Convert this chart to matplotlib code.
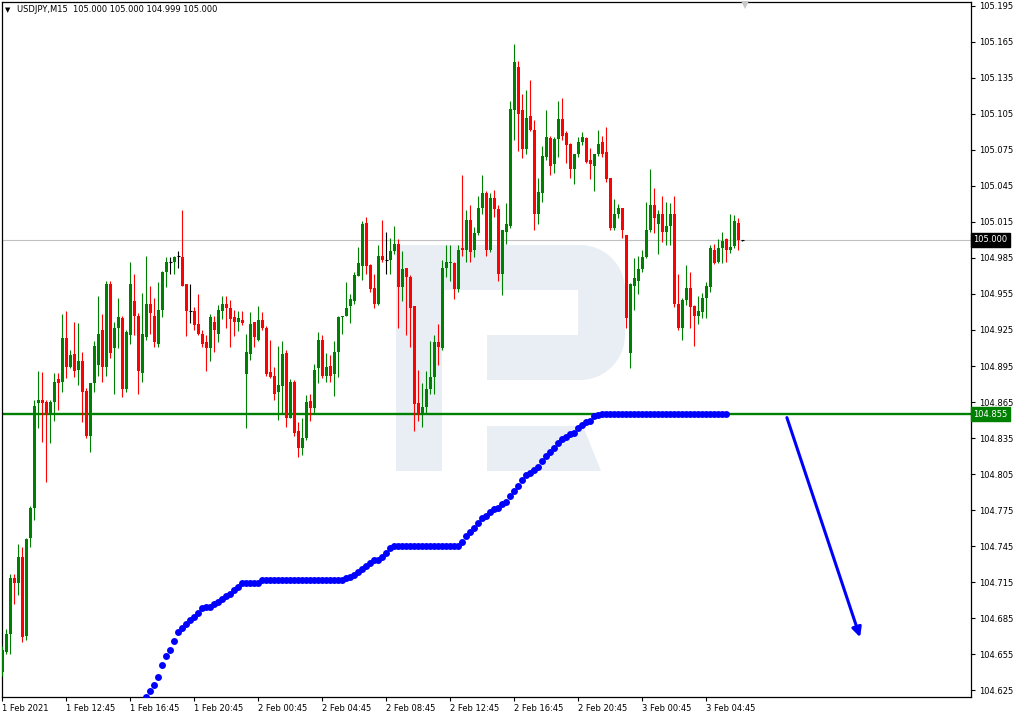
import numpy as np
import pandas as pd
import matplotlib
matplotlib.use('Agg')
import matplotlib.pyplot as plt
import matplotlib.transforms as mtransforms
from matplotlib.patches import Polygon

# ---------------- data: USDJPY M15, bars from 1 Feb 08:45 ----------------
opens = [
    104.640, 104.657, 104.672, 104.718, 104.714, 104.736, 104.670, 104.752, 104.777, 104.864,
    104.867, 104.865, 104.855, 104.865, 104.884, 104.882, 104.918, 104.894, 104.905, 104.892,
    104.899, 104.874, 104.837, 104.881, 104.896, 104.925, 104.894, 104.963, 104.910, 104.927,
    104.935, 104.876, 104.921, 104.949, 104.937, 104.889, 104.919, 104.947, 104.937, 104.913,
    104.942, 104.973, 104.982, 104.982, 104.987, 104.986, 104.963, 104.941, 104.941, 104.930,
    104.922, 104.915, 104.910, 104.932, 104.922, 104.941, 104.947, 104.943, 104.936, 104.932,
    104.933, 104.888, 104.905, 104.932, 104.917, 104.933, 104.927, 104.890, 104.887, 104.873,
    104.878, 104.906, 104.852, 104.882, 104.841, 104.827, 104.835, 104.866, 104.860, 104.893,
    104.917, 104.887, 104.895, 104.888, 104.907, 104.936, 104.937, 104.945, 104.949, 104.970,
    104.978, 105.014, 104.979, 104.960, 104.947, 104.987, 104.983, 104.983, 104.991, 104.997,
    104.961, 104.977, 104.969, 104.945, 104.864, 104.856, 104.861, 104.876, 104.886, 104.915,
    104.910, 104.977, 104.981, 104.981, 104.959, 104.993, 104.992, 105.017, 104.992, 105.006,
    105.027, 105.039, 104.992, 105.035, 105.026, 104.972, 105.007, 105.012, 105.108, 105.144,
    105.108, 105.076, 105.103, 105.092, 105.022, 105.039, 105.069, 105.085, 105.063, 105.084,
    105.101, 105.089, 105.080, 105.059, 105.072, 105.082, 105.085, 105.067, 105.062, 105.072,
    105.082, 105.073, 105.052, 105.010, 105.022, 105.027, 105.004, 104.906, 104.962, 104.966,
    104.976, 104.986, 105.008, 105.029, 105.013, 105.022, 105.007, 105.012, 105.022, 104.947,
    104.927, 104.950, 104.960, 104.945, 104.937, 104.940, 104.952, 104.961, 104.992, 104.982,
    104.993, 105.001, 104.992, 104.995, 105.014, 105.000,
]
closes = [
    104.658, 104.672, 104.718, 104.714, 104.736, 104.669, 104.751, 104.777, 104.862, 104.867,
    104.864, 104.855, 104.865, 104.882, 104.881, 104.918, 104.894, 104.904, 104.891, 104.899,
    104.873, 104.837, 104.881, 104.912, 104.922, 104.894, 104.963, 104.906, 104.927, 104.936,
    104.876, 104.923, 104.963, 104.937, 104.891, 104.922, 104.947, 104.939, 104.915, 104.942,
    104.973, 104.982, 104.982, 104.986, 104.987, 104.962, 104.941, 104.941, 104.929, 104.922,
    104.913, 104.910, 104.936, 104.925, 104.942, 104.947, 104.943, 104.934, 104.932, 104.935,
    104.931, 104.907, 104.930, 104.919, 104.933, 104.927, 104.888, 104.886, 104.872, 104.879,
    104.905, 104.852, 104.882, 104.839, 104.827, 104.835, 104.865, 104.860, 104.892, 104.917,
    104.887, 104.894, 104.887, 104.907, 104.936, 104.937, 104.943, 104.951, 104.971, 104.981,
    105.013, 104.978, 104.959, 104.947, 104.987, 104.983, 104.983, 104.991, 104.997, 104.961,
    104.976, 104.969, 104.943, 104.863, 104.856, 104.861, 104.876, 104.886, 104.915, 104.911,
    104.977, 104.982, 104.982, 104.959, 104.992, 104.992, 105.017, 104.990, 105.006, 105.027,
    105.039, 104.992, 105.035, 105.026, 104.972, 105.008, 105.013, 105.109, 105.148, 105.105,
    105.076, 105.102, 105.092, 105.022, 105.040, 105.070, 105.086, 105.062, 105.084, 105.101,
    105.087, 105.079, 105.059, 105.072, 105.082, 105.086, 105.065, 105.063, 105.072, 105.080,
    105.072, 105.051, 105.010, 105.022, 105.027, 105.008, 104.935, 104.963, 104.968, 104.976,
    104.986, 105.008, 105.029, 105.018, 105.022, 105.007, 105.012, 105.022, 104.947, 104.927,
    104.950, 104.960, 104.944, 104.937, 104.941, 104.952, 104.962, 104.993, 104.981, 104.993,
    104.999, 104.992, 104.994, 105.016, 105.000, 105.000,
]
highs = [
    104.662, 104.676, 104.722, 104.722, 104.747, 104.744, 104.752, 104.778, 104.867, 104.891,
    104.890, 104.867, 104.867, 104.889, 104.889, 104.938, 104.941, 104.908, 104.932, 104.931,
    104.907, 104.877, 104.881, 104.916, 104.953, 104.938, 104.966, 104.966, 104.932, 104.952,
    104.937, 104.925, 104.982, 104.972, 104.939, 104.956, 104.987, 104.962, 104.952, 104.965,
    104.974, 104.986, 104.986, 104.987, 104.991, 105.025, 104.963, 104.963, 104.944, 104.955,
    104.925, 104.921, 104.938, 104.937, 104.946, 104.953, 104.953, 104.950, 104.942, 104.941,
    104.941, 104.922, 104.940, 104.932, 104.945, 104.940, 104.928, 104.917, 104.894, 104.912,
    104.916, 104.908, 104.884, 104.883, 104.848, 104.852, 104.871, 104.872, 104.897, 104.923,
    104.921, 104.906, 104.904, 104.916, 104.937, 104.937, 104.965, 104.955, 104.973, 104.994,
    105.016, 105.019, 104.980, 104.972, 104.996, 105.017, 105.007, 105.002, 105.012, 105.001,
    104.991, 104.977, 104.971, 104.945, 104.892, 104.881, 104.891, 104.916, 104.921, 104.930,
    104.983, 104.996, 104.996, 104.982, 104.996, 105.054, 105.025, 105.029, 105.011, 105.037,
    105.054, 105.041, 105.039, 105.042, 105.029, 105.008, 105.031, 105.116, 105.163, 105.149,
    105.122, 105.125, 105.133, 105.100, 105.052, 105.078, 105.108, 105.087, 105.086, 105.116,
    105.118, 105.091, 105.081, 105.072, 105.086, 105.090, 105.086, 105.077, 105.072, 105.092,
    105.087, 105.094, 105.052, 105.034, 105.030, 105.027, 105.004, 104.964, 104.985, 104.987,
    104.992, 105.032, 105.059, 105.043, 105.025, 105.037, 105.032, 105.031, 105.037, 104.972,
    104.952, 104.979, 104.973, 104.946, 104.953, 104.956, 104.965, 104.996, 104.997, 105.001,
    105.007, 105.002, 105.022, 105.021, 105.018, 105.000,
]
lows = [
    104.637, 104.655, 104.655, 104.697, 104.704, 104.665, 104.667, 104.744, 104.767, 104.843,
    104.832, 104.798, 104.831, 104.849, 104.858, 104.873, 104.885, 104.893, 104.886, 104.879,
    104.848, 104.835, 104.823, 104.873, 104.887, 104.882, 104.887, 104.902, 104.872, 104.910,
    104.869, 104.873, 104.913, 104.921, 104.872, 104.882, 104.917, 104.922, 104.911, 104.911,
    104.936, 104.961, 104.972, 104.972, 104.977, 104.962, 104.920, 104.931, 104.925, 104.921,
    104.911, 104.891, 104.899, 104.907, 104.915, 104.934, 104.927, 104.911, 104.920, 104.924,
    104.929, 104.843, 104.900, 104.911, 104.916, 104.925, 104.887, 104.885, 104.867, 104.850,
    104.856, 104.844, 104.852, 104.837, 104.819, 104.821, 104.833, 104.849, 104.856, 104.881,
    104.885, 104.882, 104.882, 104.870, 104.886, 104.922, 104.937, 104.931, 104.947, 104.970,
    104.967, 104.972, 104.957, 104.943, 104.946, 104.982, 104.972, 104.972, 104.988, 104.927,
    104.949, 104.921, 104.911, 104.841, 104.849, 104.844, 104.856, 104.872, 104.872, 104.896,
    104.908, 104.969, 104.966, 104.951, 104.957, 104.987, 104.982, 104.982, 104.986, 105.004,
    105.022, 104.987, 104.990, 105.019, 104.966, 104.954, 104.997, 105.010, 105.083, 105.074,
    105.068, 105.072, 105.091, 105.008, 105.013, 105.032, 105.067, 105.054, 105.056, 105.069,
    105.083, 105.064, 105.052, 105.047, 105.069, 105.079, 105.064, 105.051, 105.041, 105.070,
    105.069, 105.048, 105.008, 105.008, 105.018, 105.002, 104.927, 104.893, 104.942, 104.955,
    104.973, 104.985, 105.007, 105.006, 104.988, 104.998, 104.996, 104.996, 104.944, 104.925,
    104.917, 104.946, 104.927, 104.912, 104.930, 104.935, 104.935, 104.957, 104.980, 104.981,
    104.981, 104.982, 104.989, 104.993, 104.992, 104.999,
]

# blue dotted indicator, one dot per bar starting at bar 36
dots_start = 36
dots = [
    104.619, 104.624, 104.629, 104.636, 104.646, 104.653, 104.658, 104.666, 104.673, 104.677,
    104.680, 104.683, 104.686, 104.689, 104.693, 104.694, 104.694, 104.697, 104.698, 104.701,
    104.703, 104.705, 104.708, 104.711, 104.714, 104.714, 104.714, 104.714, 104.714, 104.717,
    104.717, 104.717, 104.717, 104.717, 104.717, 104.717, 104.717, 104.717, 104.717, 104.717,
    104.717, 104.717, 104.717, 104.717, 104.717, 104.717, 104.717, 104.717, 104.717, 104.717,
    104.718, 104.719, 104.721, 104.723, 104.726, 104.728, 104.731, 104.733, 104.733, 104.736,
    104.739, 104.743, 104.745, 104.745, 104.745, 104.745, 104.745, 104.745, 104.745, 104.745,
    104.745, 104.745, 104.745, 104.745, 104.745, 104.745, 104.745, 104.745, 104.745, 104.748,
    104.753, 104.757, 104.760, 104.764, 104.768, 104.770, 104.773, 104.776, 104.777, 104.780,
    104.782, 104.787, 104.791, 104.795, 104.800, 104.804, 104.806, 104.808, 104.811, 104.816,
    104.820, 104.823, 104.827, 104.831, 104.834, 104.836, 104.838, 104.839, 104.843, 104.846,
    104.848, 104.849, 104.853, 104.854, 104.855, 104.855, 104.855, 104.855, 104.855, 104.855,
    104.855, 104.855, 104.855, 104.855, 104.855, 104.855, 104.855, 104.855, 104.855, 104.855,
    104.855, 104.855, 104.855, 104.855, 104.855, 104.855, 104.855, 104.855, 104.855, 104.855,
    104.855, 104.855, 104.855, 104.855, 104.855, 104.855,
]

current_price = 105.000
level_price = 104.855
arrow_x = [196.1, 214.4]
arrow_y = [104.852, 104.669]

y_ticks = [104.625, 104.655, 104.685, 104.715, 104.745, 104.775, 104.805, 104.835, 104.865,
           104.895, 104.925, 104.955, 104.985, 105.015, 105.045, 105.075, 105.105, 105.135,
           105.165, 105.195]
x_tick_bars = [0, 16, 32, 48, 64, 80, 96, 112, 128, 144, 160, 176]
x_tick_labels = ['1 Feb 2021', '1 Feb 12:45', '1 Feb 16:45', '1 Feb 20:45', '2 Feb 00:45',
                 '2 Feb 04:45', '2 Feb 08:45', '2 Feb 12:45', '2 Feb 16:45', '2 Feb 20:45',
                 '3 Feb 00:45', '3 Feb 04:45']
header = 'USDJPY,M15  105.000 105.000 104.999 105.000'

df = pd.DataFrame({'open': opens, 'high': highs, 'low': lows, 'close': closes})
df['bar'] = np.arange(len(df))

GREEN = '#008000'
RED = '#ff0000'

# ---------------- figure ----------------
W, H = 1020, 717
fig = plt.figure(figsize=(W / 100, H / 100), dpi=100)
ax = fig.add_axes([2 / W, 20 / H, 969 / W, 695 / H])
ax.set_xlim(-0.125, 242.125)
ax.set_ylim(104.6192, 105.1983)


# watermark logo (pixel coordinates of the picture -> axes fraction)
def px(x, y):
    return ((x - 2) / 969, (697 - y) / 695)


logo_color = '#e9edf4'
t = np.linspace(0, np.pi / 2, 20)
bowl = [px(442, 245), px(580, 245)]
bowl += [px(580 + 45 * np.sin(a), 290 - 45 * np.cos(a)) for a in t]
bowl += [px(580 + 45 * np.cos(a), 335 + 45 * np.sin(a)) for a in t]
bowl += [px(487, 380), px(487, 335), px(578, 335), px(578, 290), px(442, 290)]
shapes = [
    [px(396, 245), px(442, 245), px(442, 471), px(396, 471)],
    bowl,
    [px(487, 426), px(583, 426), px(601, 471), px(487, 471)],
]
for s in shapes:
    ax.add_patch(Polygon(s, closed=True, transform=ax.transAxes, facecolor=logo_color,
                         edgecolor='none', zorder=0))

# price lines
ax.axhline(current_price, color='#c0c0c0', lw=0.8, zorder=1)
ax.axhline(level_price, color=GREEN, lw=1.7, zorder=2)

# candles
up = df['close'] > df['open']
down = df['close'] < df['open']
flat = ~(up | down)
colors = np.where(up, GREEN, np.where(down, RED, '#000000'))
ax.vlines(df['bar'], df['low'], df['high'], colors=colors, lw=0.8, zorder=3)
body_low = df[['open', 'close']].min(axis=1)
body_h = (df['close'] - df['open']).abs().clip(lower=0.0009)
ax.bar(df['bar'][~flat], body_h[~flat], bottom=body_low[~flat], width=0.72,
       color=colors[~flat], linewidth=0, zorder=4)
ax.hlines(df['close'][flat], df['bar'][flat] - 0.45, df['bar'][flat] + 0.45,
          colors='black', lw=0.8, zorder=4)

# blue dots
dot_bars = np.arange(dots_start, dots_start + len(dots))
ax.plot(dot_bars, dots, 'o', color='#0000ff', ms=5, mec='#0000ff', mew=0, zorder=5)

# arrow
ax.annotate('', xy=(arrow_x[1], arrow_y[1]), xytext=(arrow_x[0], arrow_y[0]),
            arrowprops=dict(arrowstyle='-|>', color='#0000ff', lw=2.2, mutation_scale=14,
                            shrinkA=0, shrinkB=0), zorder=6)

# chart shift marker at top
ax.plot([185.6], [0.995], marker='v', ms=6, color='#c8c8c8', mew=0,
        transform=mtransforms.blended_transform_factory(ax.transData, ax.transAxes),
        clip_on=False, zorder=6)

# ---------------- axes ----------------
for sp in ax.spines.values():
    sp.set_color('black')
    sp.set_linewidth(0.9)

ax.yaxis.tick_right()
ax.set_yticks(y_ticks)
ax.set_yticklabels(['%.3f' % v for v in y_ticks])
ax.tick_params(axis='y', direction='out', length=3, width=0.8, labelsize=6, pad=3,
               colors='black')

ax.set_xticks(x_tick_bars)
ax.set_xticklabels(x_tick_labels)
ax.tick_params(axis='x', direction='out', length=3, width=0.8, labelsize=6, pad=2,
               colors='black')
for lbl in ax.get_xticklabels():
    lbl.set_horizontalalignment('left')

# price labels on the scale
trans = mtransforms.blended_transform_factory(ax.transAxes, ax.transData)
ax.text(1.0025, current_price, '%.3f' % current_price, transform=trans, fontsize=6,
        color='white', va='center', ha='left', zorder=10,
        bbox=dict(boxstyle='square,pad=0.25', fc='black', ec='black'))
ax.text(1.0025, level_price, '%.3f' % level_price, transform=trans, fontsize=6,
        color='white', va='center', ha='left', zorder=10,
        bbox=dict(boxstyle='square,pad=0.25', fc=GREEN, ec=GREEN))

# header
fig.text(5 / W, 1 - 10 / H, '\u25BC', fontsize=5, va='center', ha='left', color='black')
fig.text(17 / W, 1 - 10 / H, header, fontsize=6, va='center', ha='left', color='black')

fig.savefig('out.png', dpi=100)
